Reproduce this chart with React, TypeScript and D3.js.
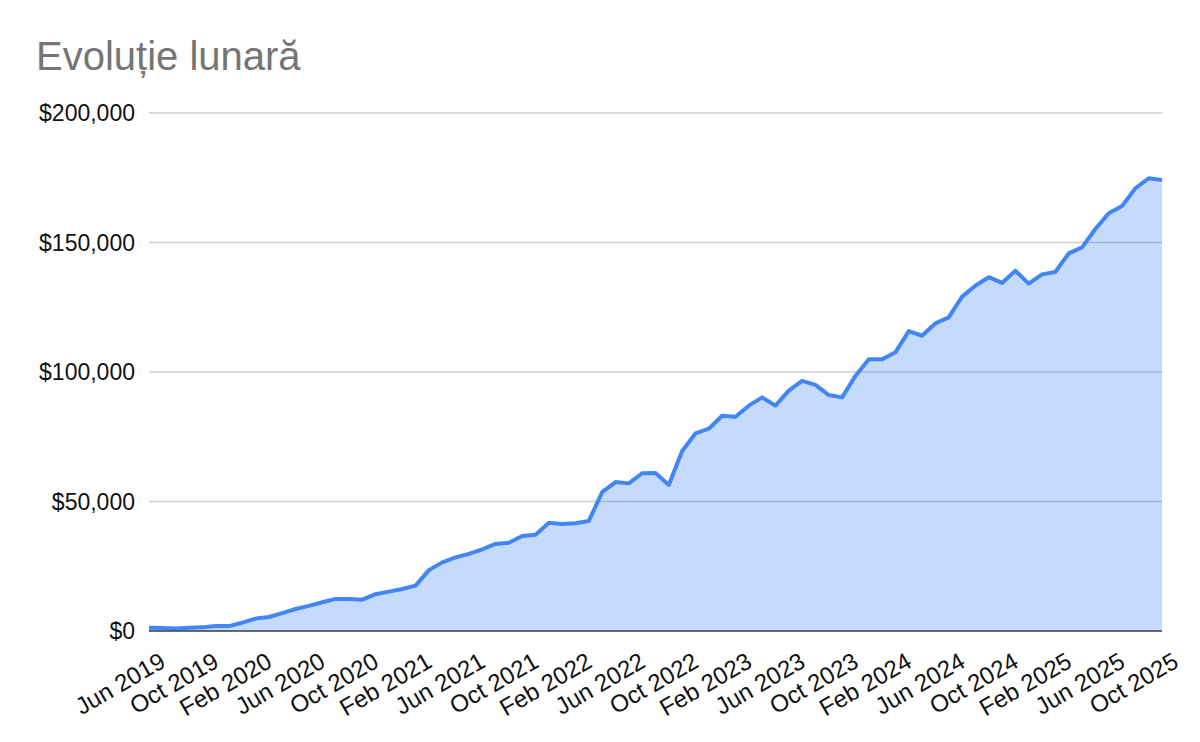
import React from 'react';
import * as d3 from 'd3';

// Monthly totals, Jun 2019 .. Oct 2025 (USD)
const values = [
  1300, 1200, 1000, 1300, 1400, 1900, 1900, 3200, 4800, 5400,
  6900, 8500, 9700, 11100, 12400, 12400, 12100, 14200, 15200, 16200,
  17500, 23500, 26500, 28400, 29800, 31500, 33600, 34100, 36700, 37200,
  41800, 41300, 41600, 42500, 53600, 57500, 57000, 60900, 61000, 56400,
  69500, 76300, 78100, 83100, 82700, 87000, 90200, 87000, 92800, 96600,
  95000, 91100, 90200, 98500, 104900, 104900, 107600, 115800, 114000, 118800,
  121100, 129100, 133300, 136600, 134400, 139100, 134100, 137700, 138600, 145800,
  148100, 155200, 161300, 164100, 170900, 174800, 174100,
];

const tickLabels = [
  'Jun 2019', 'Oct 2019', 'Feb 2020', 'Jun 2020', 'Oct 2020',
  'Feb 2021', 'Jun 2021', 'Oct 2021', 'Feb 2022', 'Jun 2022',
  'Oct 2022', 'Feb 2023', 'Jun 2023', 'Oct 2023', 'Feb 2024',
  'Jun 2024', 'Oct 2024', 'Feb 2025', 'Jun 2025', 'Oct 2025',
];
const tickStep = 4; // one label every 4 months

const yTicks = [0, 50000, 100000, 150000, 200000];

const W = 1200;
const H = 742;
const margin = { top: 113, right: 38, bottom: 111, left: 149 };

export default function App() {
  const x = d3.scaleLinear()
    .domain([0, values.length - 1])
    .range([margin.left, W - margin.right]);
  const y = d3.scaleLinear()
    .domain([0, 200000])
    .range([H - margin.bottom, margin.top]);

  const line = d3.line<number>()
    .x((_, i) => x(i))
    .y(d => y(d));
  const area = d3.area<number>()
    .x((_, i) => x(i))
    .y0(y(0))
    .y1(d => y(d));

  const fmt = (v: number) => '$' + d3.format(',')(v);
  const font = 'Arial, "Liberation Sans", sans-serif';

  return (
    <svg
      width={W}
      height={H}
      style={{ position: 'fixed', left: 0, top: 0, background: '#fff' }}
      fontFamily={font}
    >
      <text x={36} y={70} fontSize={40} fill="#757575">Evoluție lunară</text>

      {/* gridlines + y labels */}
      {yTicks.map(t => (
        <g key={t}>
          {t > 0 && (
            <line x1={margin.left} x2={W - margin.right} y1={y(t)} y2={y(t)} stroke="#cccccc" strokeWidth={1.3} />
          )}
          <text x={135} y={y(t)} dy="0.36em" textAnchor="end" fontSize={23} fill="#111">
            {fmt(t)}
          </text>
        </g>
      ))}

      <path d={area(values) || ''} fill="#4285f4" fillOpacity={0.3} />
      <path d={line(values) || ''} fill="none" stroke="#4285f4" strokeWidth={4} strokeLinejoin="round" />

      {/* baseline */}
      <line x1={margin.left} x2={W - margin.right} y1={y(0)} y2={y(0)} stroke="#333a4d" strokeWidth={1.5} />

      {/* x labels */}
      {tickLabels.map((lbl, k) => {
        const tx = x(k * tickStep) + 18;
        const ty = y(0) + 35;
        return (
          <text
            key={lbl}
            x={tx}
            y={ty}
            textAnchor="end"
            fontSize={24}
            fill="#111"
            transform={`rotate(-30 ${tx} ${ty})`}
          >
            {lbl}
          </text>
        );
      })}
    </svg>
  );
}
